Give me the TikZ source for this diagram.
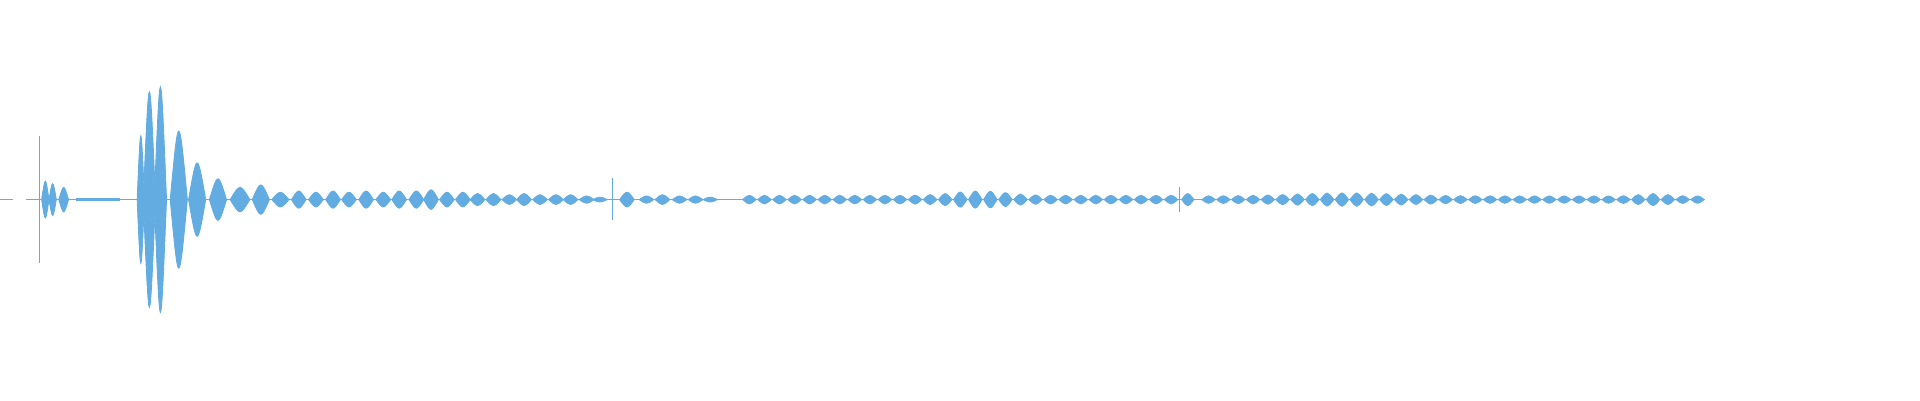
\documentclass[tikz,border=0pt]{standalone}
\usepackage{xcolor}
\usetikzlibrary{positioning}
\definecolor{wavecol}{RGB}{98,172,226}
\newcommand{\beat}[3]{% centre, half width, amplitude
  \fill[wave] (#1-#2,163) .. controls (#1,163-1.333*#3) .. (#1+#2,163)
    .. controls (#1,163+1.333*#3) .. cycle;}

\begin{document}
\begin{tikzpicture}[x=0.1mm, y=-0.1mm,
  wave/.style={fill=wavecol, draw=wavecol, line width=0.2pt},
  spike/.style={draw=wavecol, line width=0.3pt},
  baseline/.style={draw=wavecol, line width=0.3pt}
]
\useasboundingbox (0,0) rectangle (1568,326.7);

% Baseline
\draw[baseline, dashed] (0,163) -- (30,163);
\draw[baseline] (30,163) -- (1390,163);
\draw[baseline, line width=0.8pt] (62,163) -- (98,163);

% Spikes
\draw[spike] (32,111) -- (32,215);
\draw[spike] (500,145) -- (500,180);
\draw[spike] (963,153) -- (963,173);

% Opening beats
\beat{37}{3}{15} \beat{43}{3}{13} \beat{52}{4}{10}

% Main burst
\beat{115}{3}{52} \beat{122}{5}{88} \beat{131}{5}{92}
\beat{146}{7}{56} \beat{161}{7}{30} \beat{178}{7}{17}
\beat{196}{8}{10} \beat{213}{7}{12} \beat{229}{7}{6}

% Decaying train
\foreach \x/\a in {244/7,258/6,272/7,285/6,299/7,313/6,326/7,340/7,352/8,
  365/6,378/6,390/5,403/5,416/4,428/5,441/4,454/4,466/4,479/3,490/2}
  {\beat{\x}{6}{\a}}

% After second spike
\foreach \x/\a in {512/6,528/3,541/4,555/3,568/3,580/2}
  {\beat{\x}{6}{\a}}

% Middle train
\foreach \i in {0,...,28}{
  \pgfmathsetmacro{\xx}{612+12.3*\i}
  \pgfmathsetmacro{\aa}{3.5+3.5*exp(-((\xx-800)/30)^2)}
  \beat{\xx}{5.5}{\aa}}

% Third group
\beat{970}{5}{5}
\foreach \i in {0,...,33}{
  \pgfmathsetmacro{\xx}{987+12.1*\i}
  \pgfmathsetmacro{\aa}{3+2.5*exp(-((\xx-1100)/60)^2)+2*exp(-((\xx-1350)/15)^2)}
  \beat{\xx}{5.5}{\aa}}

\end{tikzpicture}
\end{document}
